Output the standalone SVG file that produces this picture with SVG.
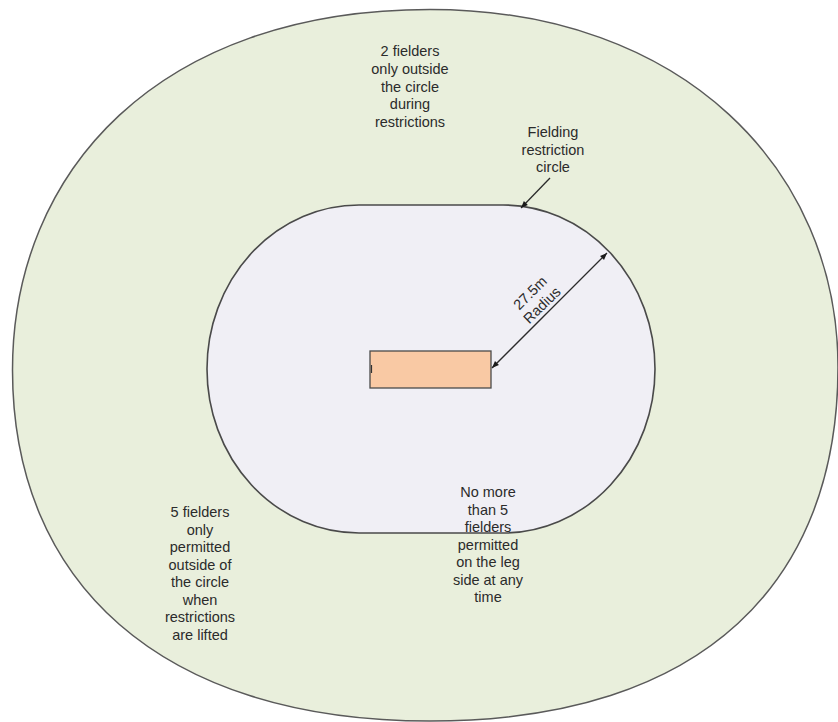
<svg xmlns="http://www.w3.org/2000/svg" width="838" height="722" viewBox="0 0 838 722">
<defs>
<style>
.lbl{font-family:"Liberation Sans",Arial,sans-serif;font-size:14.5px;fill:#2b2b2b;text-anchor:middle}
.edge{fill:none;stroke:#2b2b2b;stroke-width:1.3}
</style>
<marker id="ah" viewBox="0 0 10 10" refX="10" refY="5" markerWidth="9" markerHeight="7" markerUnits="userSpaceOnUse" orient="auto-start-reverse">
<path d="M0,1 L10,5 L0,9 z" fill="#1a1a1a"/>
</marker>
</defs>
<rect width="838" height="722" fill="#ffffff"/>
<g id="outfield">
<path d="M430,9.5 C683,9.5 838,170 838,367 C838,579 707,721 430,721 C158.6,721 12.5,580.6 12.5,370 C12.5,171 158.6,9.5 430,9.5 Z" fill="#e9efdc" stroke="#5a5a5a" stroke-width="1.5"/>
</g>
<g id="restriction-circle">
<rect x="207" y="205" width="448" height="328" rx="152" ry="164" fill="#f0eff5" stroke="#4a4a4a" stroke-width="1.6"/>
</g>
<g id="pitch">
<rect x="370" y="351" width="121" height="37" fill="#f9c9a4" stroke="#4a4a4a" stroke-width="1.3"/>
<line x1="371.5" y1="365" x2="371.5" y2="373" stroke="#333" stroke-width="1.2"/>
</g>
<g id="connectors">
<line class="edge" x1="492" y1="368" x2="607" y2="253" marker-start="url(#ah)" marker-end="url(#ah)"/>
<line class="edge" x1="550" y1="178" x2="521" y2="208" marker-end="url(#ah)"/>
</g>
<g id="label-radius">
<text class="lbl" transform="rotate(-44.5 536 299)"><tspan x="536" y="295.5">27.5m</tspan><tspan x="536" y="312.5">Radius</tspan></text>
</g>
<g id="label-top">
<text class="lbl"><tspan x="410" y="56">2 fielders</tspan><tspan x="410" y="74">only outside</tspan><tspan x="410" y="91.5">the circle</tspan><tspan x="410" y="109">during</tspan><tspan x="410" y="127">restrictions</tspan></text>
</g>
<g id="label-fielding">
<text class="lbl"><tspan x="553" y="137">Fielding</tspan><tspan x="553" y="154.5">restriction</tspan><tspan x="553" y="172">circle</tspan></text>
</g>
<g id="label-left">
<text class="lbl"><tspan x="200" y="517">5 fielders</tspan><tspan x="200" y="534.5">only</tspan><tspan x="200" y="552">permitted</tspan><tspan x="200" y="569.5">outside of</tspan><tspan x="200" y="587">the circle</tspan><tspan x="200" y="604.5">when</tspan><tspan x="200" y="622">restrictions</tspan><tspan x="200" y="639.5">are lifted</tspan></text>
</g>
<g id="label-leg">
<text class="lbl"><tspan x="488" y="497">No more</tspan><tspan x="488" y="514.5">than 5</tspan><tspan x="488" y="532">fielders</tspan><tspan x="488" y="549.5">permitted</tspan><tspan x="488" y="567">on the leg</tspan><tspan x="488" y="584.5">side at any</tspan><tspan x="488" y="602">time</tspan></text>
</g>
</svg>
